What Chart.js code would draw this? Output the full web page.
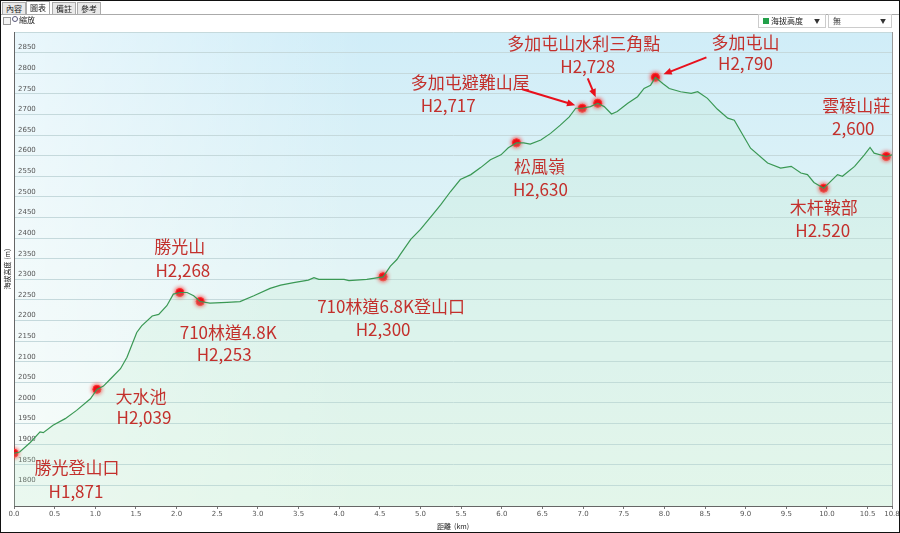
<!DOCTYPE html>
<html lang="zh-Hant">
<head>
<meta charset="UTF-8">
<title>海拔高度</title>
<script src="https://cdn.jsdelivr.net/npm/chart.js"></script>
<style>
    body { margin: 0; background: #fff; font-family: "Noto Sans CJK TC", sans-serif; }
    #wrap { position: absolute; left: 0; top: 0; width: 900px; height: 533px; }
    #frame { position: absolute; left: 0; top: 0; width: 900px; height: 533px; box-sizing: border-box; border: 1px solid #111; pointer-events: none; }
    .tab { position: absolute; top: 2px; height: 11px; font-size: 8px; line-height: 11px; padding: 0 3px; border: 1px solid #aaa; border-bottom: none; background: #e9e9e9; color: #222; }
    .tab.on { background: #fff; top: 1px; height: 13px; }
    #tabline { position: absolute; left: 1px; top: 14px; width: 898px; height: 1px; background: #aaa; }
    .sel { position: absolute; top: 14px; height: 12px; border: 1px solid #ccc; background: #fff; font-size: 8px; line-height: 12px; color: #222; }
    .sel .arr { position: absolute; right: 5px; top: 0; font-size: 6px; color: #333; }
</style>
</head>
<body>
<div id="wrap"><canvas id="profile"></canvas></div>

<div class="tab" style="left:2px">內容</div>
<div class="tab on" style="left:26px">圖表</div>
<div class="tab" style="left:52px">備註</div>
<div class="tab" style="left:77px">參考</div>
<div id="tabline"></div>
<div style="position:absolute;left:3px;top:17px;width:6px;height:6px;border:1px solid #999;background:#f4f4f4"></div>
<div style="position:absolute;left:12px;top:16px;width:4px;height:4px;border:1px solid #557;border-radius:50%"></div>
<div style="position:absolute;left:19px;top:14px;font-size:8px;line-height:12px;color:#222">縮放</div>
<div class="sel" style="left:758px;width:66px"><span style="position:absolute;left:4px;top:3px;width:6px;height:6px;background:#22a04a"></span><span style="position:absolute;left:12px">海拔高度</span><span class="arr">▼</span></div>
<div class="sel" style="left:828px;width:62px"><span style="position:absolute;left:4px">無</span><span class="arr">▼</span></div>
<div id="frame"></div>

<script>
// trail profile: distance (km) / elevation (m)
const distKm = [0, 0.07, 0.2, 0.32, 0.36, 0.48, 0.63, 0.77, 0.94, 1.02, 1.1, 1.18, 1.31, 1.39, 1.51, 1.57, 1.7, 1.78, 1.88, 1.96,
    2.04, 2.13, 2.21, 2.29, 2.41, 2.62, 2.78, 2.95, 3.15, 3.28, 3.44, 3.62, 3.69, 3.75, 4.06, 4.12, 4.34, 4.54,
    4.63, 4.71, 4.75, 4.88, 5.0, 5.15, 5.25, 5.37, 5.49, 5.62, 5.74, 5.86, 5.99, 6.08, 6.18, 6.27, 6.35, 6.48,
    6.6, 6.72, 6.83, 6.91, 6.99, 7.09, 7.18, 7.26, 7.35, 7.42, 7.55, 7.67, 7.75, 7.83, 7.89, 7.98, 8.06, 8.2,
    8.33, 8.41, 8.53, 8.65, 8.78, 8.86, 9.06, 9.27, 9.43, 9.56, 9.68, 9.76, 9.84, 9.96, 10.13, 10.19, 10.34,
    10.46, 10.53, 10.58, 10.73, 10.8];
const elevM = [1878, 1881, 1904, 1930, 1928, 1946, 1962, 1982, 2010, 2033, 2041, 2057, 2083, 2111, 2171, 2187, 2211, 2215, 2236, 2264,
    2268, 2268, 2260, 2246, 2242, 2244, 2246, 2260, 2278, 2286, 2292, 2298, 2304, 2300, 2300, 2297, 2300, 2306,
    2332, 2348, 2360, 2397, 2421, 2457, 2481, 2513, 2542, 2554, 2571, 2590, 2602, 2619, 2631, 2631, 2628, 2638,
    2654, 2674, 2694, 2715, 2715, 2719, 2727, 2719, 2701, 2707, 2727, 2743, 2763, 2771, 2790, 2775, 2763, 2755,
    2751, 2755, 2739, 2713, 2691, 2686, 2618, 2582, 2570, 2574, 2558, 2554, 2535, 2521, 2554, 2550, 2574,
    2602, 2620, 2606, 2598, 2602];

// marked waypoints
const markerKm = [0, 1.02, 2.04, 2.29, 4.54, 6.18, 6.99, 7.18, 7.89, 9.96, 10.73];
const markerElev = [1878, 2033, 2268, 2246, 2306, 2631, 2715, 2727, 2790, 2521, 2598];
const markerName = ['勝光登山口', '大水池', '勝光山', '710林道4.8K', '710林道6.8K登山口', '松風嶺',
    '多加屯避難山屋', '多加屯山水利三角點', '多加屯山', '木杆鞍部', '雲稜山莊'];
const markerHeight = ['H1,871', 'H2,039', 'H2,268', 'H2,253', 'H2,300', 'H2,630',
    'H2,717', 'H2,728', 'H2,790', 'H2.520', '2,600'];

const xTicks = [0, 0.5, 1, 1.5, 2, 2.5, 3, 3.5, 4, 4.5, 5, 5.5, 6, 6.5, 7, 7.5, 8, 8.5, 9, 9.5, 10, 10.5, 10.8];
const yMin = 1750, yMax = 2900, yStep = 50;

// label placement, px offsets from the marker: [dx1, dy1, dx2, dy2]
const labelOffsets = [[63, 14, 62, 38], [44, 7, 47, 28], [0, -46, 3, -22], [28, 31, 24, 53], [8, 30, 0, 53],
    [23, 24, 24, 47], [-112, -26, -134, -3], [-14, -60, -10, -37], [90, -35, 90, -14], [0, 19, -1, 42], [-30, -51, -33, -28]];
// arrows: marker index, tail dx, dy, head dx, dy
const arrows = [[6, -60, -19, -7, -3], [7, -10, -25, -2, -6], [8, 51, -20, 8, -3]];

const RED_TEXT = '#c3302c';
const RED = '#e8101c';

const bgPlugin = {
    id: 'plotBg',
    beforeDraw(chart) {
        const { ctx, chartArea: a } = chart;
        ctx.save();
        const g = ctx.createLinearGradient(0, a.top, 0, a.bottom);
        g.addColorStop(0, '#d0edf8');
        g.addColorStop(0.5, '#e2f4f6');
        g.addColorStop(1, '#eef9f3');
        ctx.fillStyle = g;
        ctx.fillRect(a.left, a.top, a.right - a.left, a.bottom - a.top);
        const h = ctx.createLinearGradient(a.left, 0, a.right, 0);
        h.addColorStop(0, 'rgba(255,255,255,0.55)');
        h.addColorStop(0.4, 'rgba(255,255,255,0)');
        ctx.fillStyle = h;
        ctx.fillRect(a.left, a.top, a.right - a.left, a.bottom - a.top);
        ctx.strokeStyle = '#999';
        ctx.lineWidth = 1;
        ctx.beginPath();
        ctx.moveTo(a.right + 0.5, a.top);
        ctx.lineTo(a.right + 0.5, a.bottom);
        ctx.stroke();
        ctx.restore();
    }
};

const labelPlugin = {
    id: 'waypointLabels',
    afterDatasetsDraw(chart) {
        const { ctx } = chart;
        const xs = chart.scales.x, ys = chart.scales.y;
        ctx.save();
        ctx.font = '17px "Noto Sans CJK TC", sans-serif';
        ctx.fillStyle = RED_TEXT;
        ctx.textAlign = 'center';
        ctx.textBaseline = 'middle';
        markerName.forEach((name, i) => {
            const px = xs.getPixelForValue(markerKm[i]);
            const py = ys.getPixelForValue(markerElev[i]);
            const o = labelOffsets[i];
            ctx.fillText(name, px + o[0], py + o[1]);
            ctx.fillText(markerHeight[i], px + o[2], py + o[3]);
        });
        ctx.strokeStyle = RED;
        ctx.fillStyle = RED;
        ctx.lineWidth = 2;
        arrows.forEach(([i, tx, ty, hx, hy]) => {
            const px = xs.getPixelForValue(markerKm[i]);
            const py = ys.getPixelForValue(markerElev[i]);
            const x1 = px + tx, y1 = py + ty, x2 = px + hx, y2 = py + hy;
            const ang = Math.atan2(y2 - y1, x2 - x1);
            ctx.beginPath();
            ctx.moveTo(x1, y1);
            ctx.lineTo(x2 - 6 * Math.cos(ang), y2 - 6 * Math.sin(ang));
            ctx.stroke();
            ctx.beginPath();
            ctx.moveTo(x2, y2);
            ctx.lineTo(x2 - 9 * Math.cos(ang - 0.4), y2 - 9 * Math.sin(ang - 0.4));
            ctx.lineTo(x2 - 9 * Math.cos(ang + 0.4), y2 - 9 * Math.sin(ang + 0.4));
            ctx.closePath();
            ctx.fill();
        });
        ctx.restore();
    }
};

const glowPlugin = {
    id: 'markerGlow',
    beforeDatasetDraw(chart, args) {
        if (args.index === 1) {
            chart.ctx.save();
            chart.ctx.shadowColor = 'rgba(255,0,0,0.9)';
            chart.ctx.shadowBlur = 4;
        }
    },
    afterDatasetDraw(chart, args) {
        if (args.index === 1) chart.ctx.restore();
    }
};

const ctx = document.getElementById('profile').getContext('2d');
new Chart(ctx, {
    type: 'line',
    data: {
        datasets: [{
            label: '海拔高度',
            data: distKm.map((d, i) => ({ x: d, y: elevM[i] })),
            borderColor: '#3a9854',
            borderWidth: 1.2,
            pointRadius: 0,
            tension: 0,
            fill: 'origin',
            backgroundColor: 'rgba(185,236,200,0.2)'
        }, {
            type: 'scatter',
            label: 'waypoints',
            data: markerKm.map((d, i) => ({ x: d, y: markerElev[i] })),
            pointRadius: 4,
            pointBackgroundColor: RED,
            pointBorderColor: '#ff3030',
            pointBorderWidth: 1
        }]
    },
    options: {
        responsive: true,
        maintainAspectRatio: false,
        animation: false,
        layout: { padding: { top: 32, right: 8, bottom: 1, left: 0 } },
        plugins: { legend: { display: false }, tooltip: { enabled: false } },
        scales: {
            x: {
                type: 'linear',
                min: 0,
                max: 10.8,
                afterBuildTicks: s => { s.ticks = xTicks.map(v => ({ value: v })); },
                afterFit: s => { s.height = 26; s.paddingLeft = 0; s.paddingRight = 0; },
                grid: { drawOnChartArea: false, drawTicks: true, tickLength: 3, color: '#777' },
                border: { display: true, color: '#666', width: 1 },
                ticks: {
                    maxRotation: 0, autoSkip: false, padding: 1, color: '#555',
                    font: { family: 'DejaVu Sans', size: 7 },
                    callback: v => v.toFixed(1)
                },
                title: { display: true, text: '距離  (km)', color: '#222', font: { family: 'Noto Sans CJK TC', size: 7 }, padding: { top: 0, bottom: 1 } }
            },
            y: {
                min: yMin,
                max: yMax,
                afterFit: s => { s.width = 14; s.paddingTop = 0; s.paddingBottom = 0; },
                grid: { color: '#c5d9dc', drawTicks: false },
                border: { display: true, color: '#666', width: 1 },
                ticks: {
                    stepSize: yStep, mirror: true, padding: 4, labelOffset: -5, color: '#555',
                    font: { family: 'DejaVu Sans', size: 7 },
                    callback: v => (v === yMin || v === yMax) ? '' : v
                },
                title: { display: true, text: '海拔高度 (m)', color: '#222', font: { family: 'Noto Sans CJK TC', size: 7 }, padding: 3 }
            }
        }
    },
    plugins: [bgPlugin, glowPlugin, labelPlugin]
});
</script>
</body>
</html>
